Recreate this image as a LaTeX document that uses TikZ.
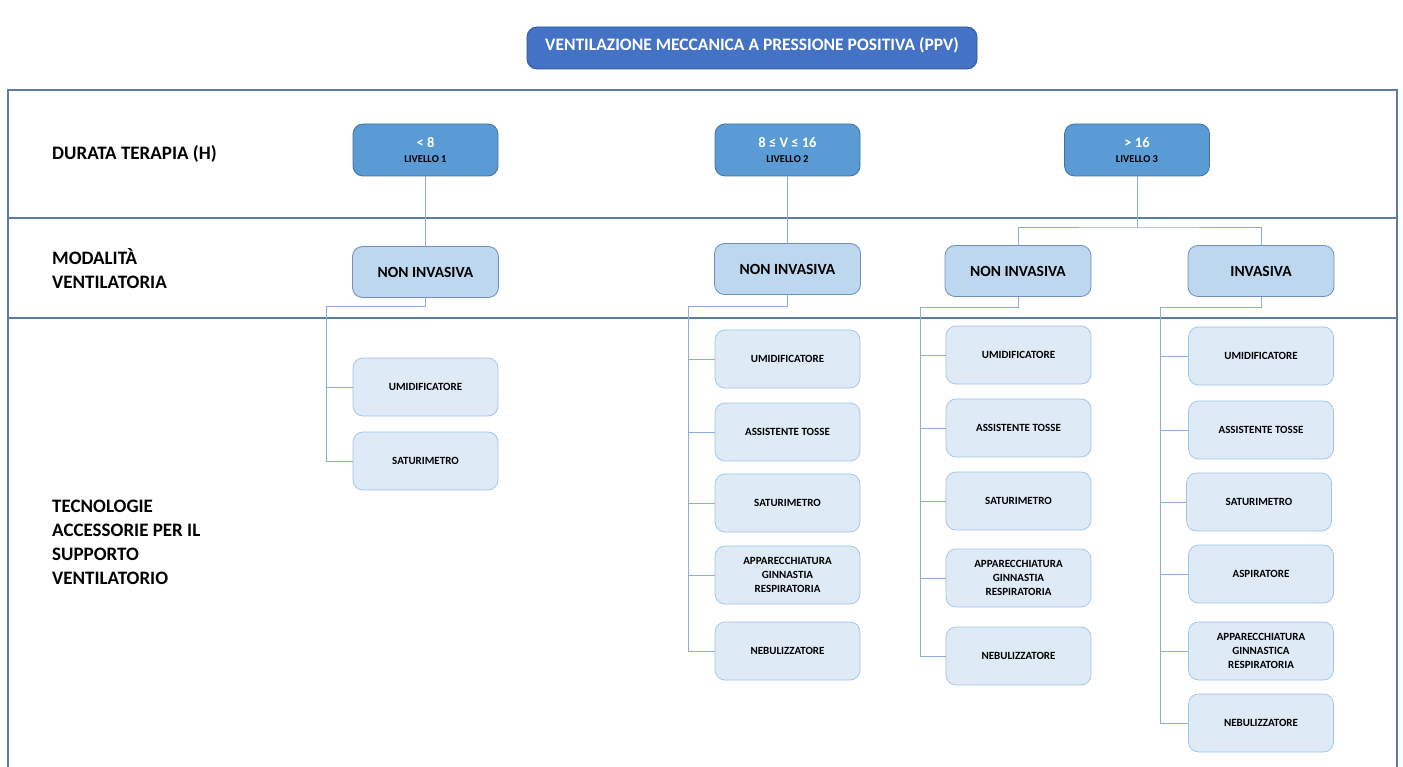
\documentclass[tikz,border=0pt]{standalone}
\usepackage{fontspec}
\setmainfont{Carlito}
\definecolor{frameC}{HTML}{5B7BAA}
\definecolor{titleF}{HTML}{4472C4}
\definecolor{titleD}{HTML}{2F5597}
\definecolor{levF}{HTML}{5B9BD5}
\definecolor{levD}{HTML}{41719C}
\definecolor{modF}{HTML}{BDD7EE}
\definecolor{modD}{HTML}{6F8FBF}
\definecolor{accF}{HTML}{DEEBF7}
\definecolor{accD}{HTML}{9DC3E6}
\definecolor{connC}{HTML}{8FAADC}
\tikzset{
  framel/.style={draw=frameC, line width=1.6pt},
  titlebox/.style={draw=titleD, line width=0.8pt, fill=titleF, rounded corners=10pt, minimum width=450pt, minimum height=42pt, inner sep=0pt},
  titletxt/.style={text=white, font=\bfseries\fontsize{17.5}{20}\selectfont, inner sep=0pt},
  levbox/.style={draw=levD, line width=0.8pt, fill=levF, rounded corners=10pt, minimum width=145pt, minimum height=52pt, inner sep=0pt},
  levnum/.style={anchor=base, text=white, font=\bfseries\fontsize{14.5}{16}\selectfont, inner sep=0pt},
  levname/.style={anchor=base, font=\bfseries\fontsize{10.5}{12}\selectfont, inner sep=0pt},
  modbox/.style={draw=modD, line width=0.8pt, fill=modF, rounded corners=10pt, minimum width=146pt, minimum height=51pt, font=\bfseries\fontsize{15.5}{17}\selectfont, inner sep=0pt},
  accbox/.style={draw=accD, line width=0.7pt, fill=accF, rounded corners=10pt, minimum width=145pt, minimum height=58pt, align=center, font=\bfseries\fontsize{11}{14}\selectfont, inner sep=0pt},
  rowlab/.style={anchor=base west, font=\bfseries\fontsize{19}{24}\selectfont, inner sep=0pt},
  conn/.style={draw=connC, line width=0.7pt},
}
\begin{document}
\begin{tikzpicture}[x=1pt,y=-1pt]
\useasboundingbox (0,0) rectangle (1403,767);
% frame
\draw[framel] (8,767) -- (8,90) -- (1397,90) -- (1397,767);
\draw[framel] (8,218) -- (1397,218);
\draw[framel] (8,318) -- (1397,318);
% row labels
\node[rowlab] (r1) at (52,160) {DURATA TERAPIA (H)};
\node[rowlab] (r2a) at (52,265) {MODALITÀ};
\node[rowlab] (r2b) at (52,289) {VENTILATORIA};
\node[rowlab] (r3a) at (52,512) {TECNOLOGIE};
\node[rowlab] (r3b) at (52,536) {ACCESSORIE PER IL};
\node[rowlab] (r3c) at (52,560) {SUPPORTO};
\node[rowlab] (r3d) at (52,584) {VENTILATORIO};
% title
\node[titlebox] (title) at (752,48) {};
\node[titletxt] (titlet) at (752,45) {VENTILAZIONE MECCANICA A PRESSIONE POSITIVA (PPV)};
% levels
\node[levbox] (l1) at (425.5,150) {};
\node[levnum] (l1n) at (425.5,148) {< 8};
\node[levname] (l1t) at (425.5,163) {LIVELLO 1};
\node[levbox] (l2) at (787.5,150) {};
\node[levnum] (l2n) at (787.5,148) {8 ≤ V ≤ 16};
\node[levname] (l2t) at (787.5,163) {LIVELLO 2};
\node[levbox] (l3) at (1137,150) {};
\node[levnum] (l3n) at (1137,148) {> 16};
\node[levname] (l3t) at (1137,163) {LIVELLO 3};
% modalities
\node[modbox] (n1) at (425.5,272) {NON INVASIVA};
\node[modbox] (n2) at (787.5,269) {NON INVASIVA};
\node[modbox] (n3) at (1018,271) {NON INVASIVA};
\node[modbox] (n4) at (1261,271) {INVASIVA};
% level -> modality
\draw[conn] (l1.south) -- (n1.north);
\draw[conn] (l2.south) -- (n2.north);
\coordinate (s3) at (1137,227);
\draw[conn] (l3.south) -- (s3);
\draw[conn] (n3.north) |- (s3) -| (n4.north);
% column 1 accessories
\node[accbox] (a11) at (425.5,387) {UMIDIFICATORE};
\node[accbox] (a12) at (425.5,461) {SATURIMETRO};
\coordinate (t1) at (326,306);
\draw[conn] (n1.south) |- (t1) |- (a12.west);
\draw[conn] (t1 |- a11.west) -- (a11.west);
% column 2
\node[accbox] (a21) at (787.5,359) {UMIDIFICATORE};
\node[accbox] (a22) at (787.5,432) {ASSISTENTE TOSSE};
\node[accbox] (a23) at (787.5,503) {SATURIMETRO};
\node[accbox] (a24) at (787.5,575) {APPARECCHIATURA\\GINNASTIA\\RESPIRATORIA};
\node[accbox] (a25) at (787.5,651) {NEBULIZZATORE};
\coordinate (t2) at (688,306);
\draw[conn] (n2.south) |- (t2) |- (a25.west);
\foreach \b in {a21,a22,a23,a24} \draw[conn] (t2 |- \b.west) -- (\b.west);
% column 3
\node[accbox] (a31) at (1018.5,355) {UMIDIFICATORE};
\node[accbox] (a32) at (1018.5,428) {ASSISTENTE TOSSE};
\node[accbox] (a33) at (1018.5,501) {SATURIMETRO};
\node[accbox] (a34) at (1018.5,578) {APPARECCHIATURA\\GINNASTIA\\RESPIRATORIA};
\node[accbox] (a35) at (1018.5,656) {NEBULIZZATORE};
\coordinate (t3) at (920,307);
\draw[conn] (n3.south) |- (t3) |- (a35.west);
\foreach \b in {a31,a32,a33,a34} \draw[conn] (t3 |- \b.west) -- (\b.west);
% column 4
\node[accbox] (a41) at (1261,356) {UMIDIFICATORE};
\node[accbox] (a42) at (1261,430) {ASSISTENTE TOSSE};
\node[accbox] (a43) at (1259,502) {SATURIMETRO};
\node[accbox] (a44) at (1261,574) {ASPIRATORE};
\node[accbox] (a45) at (1261,651) {APPARECCHIATURA\\GINNASTICA\\RESPIRATORIA};
\node[accbox] (a46) at (1261,723) {NEBULIZZATORE};
\coordinate (t4) at (1160,307);
\draw[conn] (n4.south) |- (t4) |- (a46.west);
\foreach \b in {a41,a42,a43,a44,a45} \draw[conn] (t4 |- \b.west) -- (\b.west);
\end{tikzpicture}
\end{document}
